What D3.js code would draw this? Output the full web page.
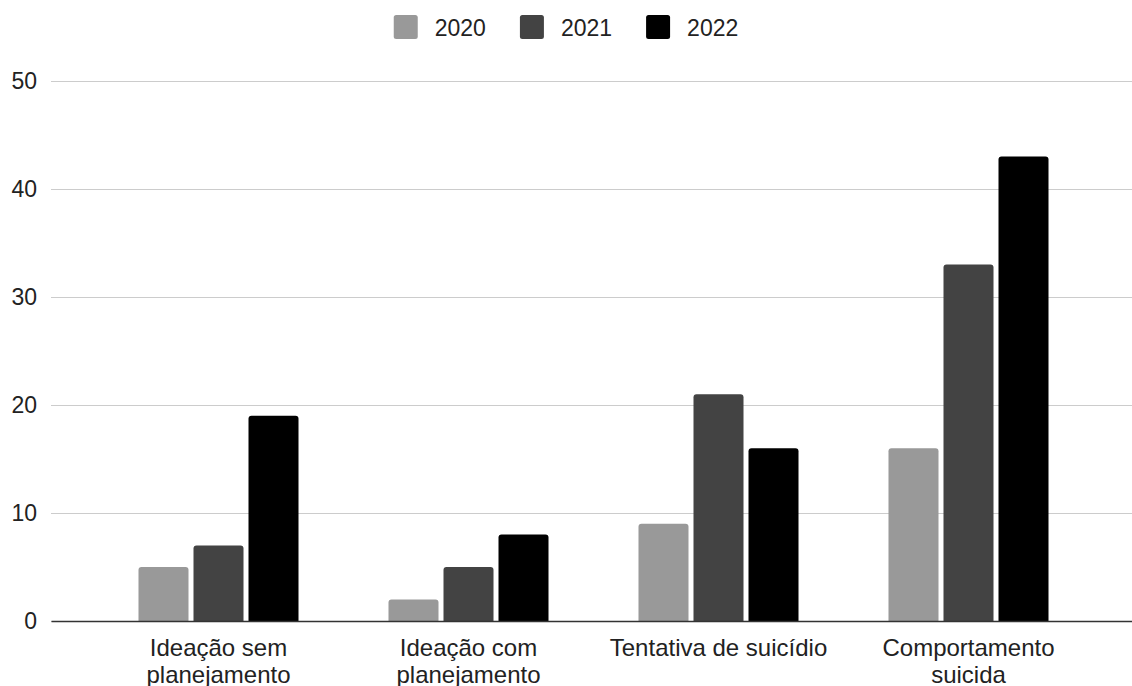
<!doctype html>
<html>
<head>
<meta charset="utf-8">
<script src="https://cdn.jsdelivr.net/npm/d3@7"></script>
<style>
  body { margin: 0; background: #fff; }
  text { font-family: Arial, "Liberation Sans", sans-serif; }
</style>
</head>
<body>
<div id="chart"></div>
<script>

// data
var categories = ["Ideação sem planejamento", "Ideação com planejamento", "Tentativa de suicídio", "Comportamento suicida"];
var years = ["2020", "2021", "2022"];
var values2020 = [5, 2, 9, 16];
var values2021 = [7, 5, 21, 33];
var values2022 = [19, 8, 16, 43];
var yTicks = [0, 10, 20, 30, 40, 50];
var colors = ["#999999", "#434343", "#000000"];

var series = [values2020, values2021, values2022];

var width = 1132,
    height = 686;

// plot area (window.top is reserved, so no "top" here)
var plotLeft = 51, plotRight = 1136, plotTop = 81, plotBottom = 621;

var svg = d3.select("#chart").append("svg")
    .attr("width", width)
    .attr("height", height);

var x = d3.scaleBand().domain(categories).range([plotLeft, plotRight])
    .paddingInner(0).paddingOuter(0.17);

var xSub = d3.scaleBand().domain(years).range([0, x.bandwidth()])
    .paddingInner(0.0909).paddingOuter(0.818);

var y = d3.scaleLinear().domain([0, 50]).range([plotBottom, plotTop]);

var color = d3.scaleOrdinal().domain(years).range(colors);

// gridlines + y labels
var yAxis = svg.append("g")
    .attr("transform", "translate(" + plotLeft + ",0)")
    .call(d3.axisLeft(y).tickValues(yTicks).tickSizeInner(-(plotRight - plotLeft)).tickSizeOuter(0).tickPadding(14));
yAxis.select(".domain").remove();
yAxis.selectAll(".tick line").attr("stroke", "#cccccc").attr("stroke-width", 1);
yAxis.selectAll(".tick text")
    .attr("fill", "#222")
    .style("font-size", "23px")
    .style("font-family", "Arial, 'Liberation Sans', sans-serif");

// bars, rounded only on top
function barPath(x0, y0, w, h, r) {
  r = Math.min(r, h / 2, w / 2);
  return "M" + x0 + "," + (y0 + h) +
    "V" + (y0 + r) +
    "Q" + x0 + "," + y0 + " " + (x0 + r) + "," + y0 +
    "H" + (x0 + w - r) +
    "Q" + (x0 + w) + "," + y0 + " " + (x0 + w) + "," + (y0 + r) +
    "V" + (y0 + h) + "Z";
}

var rows = [];
categories.forEach(function(c, i) {
  years.forEach(function(yr, j) {
    rows.push({cat: c, year: yr, value: series[j][i]});
  });
});

svg.append("g").selectAll("path").data(rows)
  .enter().append("path")
  .attr("fill", function(d) { return color(d.year); })
  .attr("d", function(d) {
    var bx = x(d.cat) + xSub(d.year);
    return barPath(bx, y(d.value), xSub.bandwidth(), y(0) - y(d.value), 3);
  });

// x axis
var xAxis = svg.append("g")
    .attr("transform", "translate(0," + plotBottom + ")")
    .call(d3.axisBottom(x).tickSize(0).tickPadding(0).tickSizeOuter(0));
xAxis.select(".domain").attr("stroke", "#333333").attr("stroke-width", 1.5);
xAxis.selectAll(".tick text")
    .attr("fill", "#222")
    .attr("y", 0)
    .attr("dy", null)
    .style("font-size", "24px")
    .style("font-family", "Arial, 'Liberation Sans', sans-serif")
    .each(function(d) { wrap(d3.select(this), d, 236); });

function wrap(text, label, maxW) {
  var words = label.split(" ");
  var lines = [], line = [];
  text.text(null);
  var probe = text.append("tspan");
  words.forEach(function(w) {
    line.push(w);
    probe.text(line.join(" "));
    if (probe.node().getComputedTextLength() > maxW && line.length > 1) {
      line.pop();
      lines.push(line.join(" "));
      line = [w];
    }
  });
  lines.push(line.join(" "));
  probe.remove();
  lines.forEach(function(l, i) {
    text.append("tspan").attr("x", 0).attr("y", 35 + i * 27).text(l);
  });
}

// legend
var legend = svg.append("g");
var item = legend.selectAll("g").data(years).enter().append("g");
item.append("rect")
    .attr("width", 24).attr("height", 24).attr("y", 15).attr("rx", 2.5)
    .attr("fill", function(d) { return color(d); });
item.append("text")
    .attr("x", 41).attr("y", 36)
    .attr("fill", "#222")
    .style("font-size", "23px")
    .text(function(d) { return d; });

var pos = 0, offsets = [];
item.each(function() {
  offsets.push(pos);
  pos += 41 + d3.select(this).select("text").node().getComputedTextLength() + 34;
});
var total = pos - 34;
item.attr("transform", function(d, i) { return "translate(" + offsets[i] + ",0)"; });
legend.attr("transform", "translate(" + (width / 2 - total / 2) + ",0)");

</script>
</body>
</html>
